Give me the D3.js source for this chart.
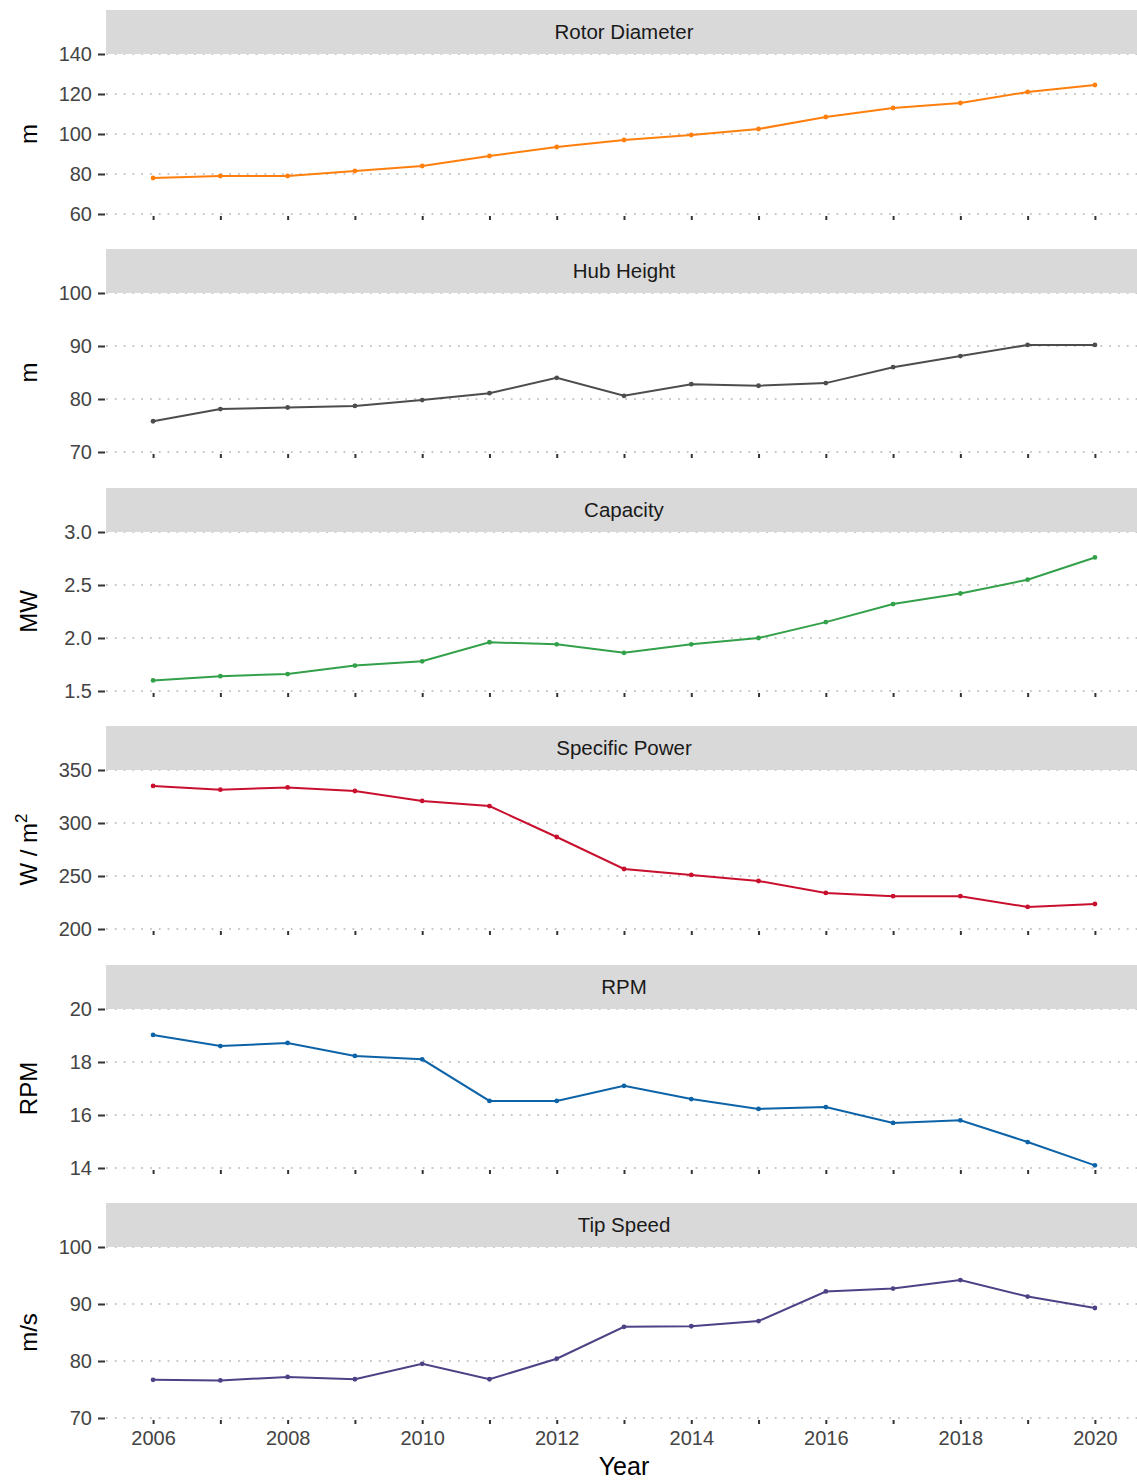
<!DOCTYPE html>
<html>
<head>
<meta charset="utf-8">
<script src="https://cdn.jsdelivr.net/npm/d3@7"></script>
<style>
  body { margin: 0; background: #fff; }
  text { font-family: "Liberation Sans", Arial, sans-serif; }
</style>
</head>
<body>
<script>
// Data
const years = d3.range(2006, 2021);
const panelNames = ["Rotor Diameter", "Hub Height", "Capacity", "Specific Power", "RPM", "Tip Speed"];
const unitLabels = ["m", "m", "MW", "W/m2", "RPM", "m/s"];
const colors = ["#ff7f0e", "#4d4d4d", "#33a04a", "#c8102e", "#0c63a8", "#4e4287"];

const rotorDiameter = [78, 79, 79, 81.5, 84, 89, 93.5, 97, 99.5, 102.5, 108.5, 113, 115.5, 121, 124.5];
const hubHeight = [75.8, 78.1, 78.4, 78.7, 79.8, 81.1, 84, 80.6, 82.8, 82.5, 83, 86, 88.1, 90.2, 90.2];
const capacity = [1.60, 1.64, 1.66, 1.74, 1.78, 1.96, 1.94, 1.86, 1.94, 2.0, 2.15, 2.32, 2.42, 2.55, 2.76];
const specificPower = [335, 331.4, 333.6, 330.2, 320.8, 316, 286.8, 256.6, 251, 245.3, 234, 231, 231, 220.8, 223.6];
const rpm = [19.02, 18.6, 18.72, 18.23, 18.1, 16.53, 16.53, 17.1, 16.6, 16.23, 16.3, 15.7, 15.8, 14.98, 14.1];
const tipSpeed = [76.7, 76.6, 77.2, 76.8, 79.5, 76.8, 80.4, 86, 86.1, 87, 92.2, 92.7, 94.2, 91.3, 89.3];

const seriesValues = [rotorDiameter, hubHeight, capacity, specificPower, rpm, tipSpeed];
const yDomains = [[60, 140], [70, 100], [1.5, 3.0], [200, 350], [14, 20], [70, 100]];
const yTicks = [
  [60, 80, 100, 120, 140],
  [70, 80, 90, 100],
  [1.5, 2.0, 2.5, 3.0],
  [200, 250, 300, 350],
  [14, 16, 18, 20],
  [70, 80, 90, 100]
];
const yFormats = [d3.format("d"), d3.format("d"), d3.format(".1f"), d3.format("d"), d3.format("d"), d3.format("d")];
const xTickLabels = [2006, 2008, 2010, 2012, 2014, 2016, 2018, 2020];

// layout
const width = 1137, height = 1482;
const left = 106, right = 1142;
const stripH = 44;
const stripTops = [10, 249, 488, 726, 965, 1203];
const plotHeights = [160, 159, 159, 159, 159, 171];

const svg = d3.select("body").append("svg")
  .attr("width", width)
  .attr("height", height);

const x = d3.scaleLinear().domain([2005.3, 2020.7]).range([left, right]);

panelNames.forEach((name, i) => {
  const top = stripTops[i] + stripH;
  const bottom = top + plotHeights[i];
  const y = d3.scaleLinear().domain(yDomains[i]).range([bottom, top]);
  const g = svg.append("g");

  // gridlines
  g.selectAll("line.grid")
    .data(yTicks[i])
    .enter().append("line")
    .attr("x1", left).attr("x2", right)
    .attr("y1", d => y(d)).attr("y2", d => y(d))
    .attr("stroke", "#b5b5b5")
    .attr("stroke-width", 1.6)
    .attr("stroke-dasharray", "1.8,7");

  // strip
  g.append("rect")
    .attr("x", left).attr("y", stripTops[i])
    .attr("width", right - left).attr("height", stripH)
    .attr("fill", "#d9d9d9");
  g.append("text")
    .attr("x", 624)
    .attr("y", stripTops[i] + stripH / 2)
    .attr("dy", "0.35em")
    .attr("text-anchor", "middle")
    .attr("fill", "#1a1a1a")
    .style("font-size", "20.5px")
    .text(name);

  // y axis
  const yAxis = d3.axisLeft(y).tickValues(yTicks[i]).tickFormat(yFormats[i]).tickSize(7).tickPadding(6);
  const ya = g.append("g").attr("transform", `translate(${left - 1},0)`).call(yAxis);
  ya.select(".domain").remove();
  ya.selectAll(".tick line").attr("stroke", "#333").attr("stroke-width", 2);
  ya.selectAll(".tick text").attr("fill", "#444").style("font-size", "20px")
    .style("font-family", "'Liberation Sans', Arial, sans-serif");

  // x axis ticks
  const xAxis = d3.axisBottom(x).tickValues(years).tickSize(6).tickPadding(7)
    .tickFormat(d => (i === panelNames.length - 1 && xTickLabels.includes(d)) ? d : "");
  const xa = g.append("g").attr("transform", `translate(0,${bottom})`).call(xAxis);
  xa.select(".domain").remove();
  xa.selectAll(".tick line").attr("stroke", "#333").attr("stroke-width", 2).attr("y1", 2);
  xa.selectAll(".tick text").attr("fill", "#444").style("font-size", "20px")
    .style("font-family", "'Liberation Sans', Arial, sans-serif");

  // y title
  const t = g.append("text")
    .attr("transform", `translate(37,${(top + bottom) / 2}) rotate(-90)`)
    .attr("text-anchor", "middle")
    .attr("fill", "#000")
    .style("font-size", "24px");
  if (unitLabels[i] === "W/m2") {
    t.append("tspan").text("W / m");
    t.append("tspan").attr("dy", "-0.6em").style("font-size", "17px").text("2");
  } else {
    t.text(unitLabels[i]);
  }

  // line and points
  const pts = years.map((yr, k) => ({ yr, v: seriesValues[i][k] }));
  const line = d3.line().x(d => x(d.yr)).y(d => y(d.v));
  g.append("path")
    .datum(pts)
    .attr("d", line)
    .attr("fill", "none")
    .attr("stroke", colors[i])
    .attr("stroke-width", 2);
  g.selectAll("circle")
    .data(pts)
    .enter().append("circle")
    .attr("cx", d => x(d.yr))
    .attr("cy", d => y(d.v))
    .attr("r", 2.4)
    .attr("fill", colors[i]);
});

svg.append("text")
  .attr("x", 624)
  .attr("y", 1475)
  .attr("text-anchor", "middle")
  .attr("fill", "#000")
  .style("font-size", "25px")
  .text("Year");
</script>
</body>
</html>
